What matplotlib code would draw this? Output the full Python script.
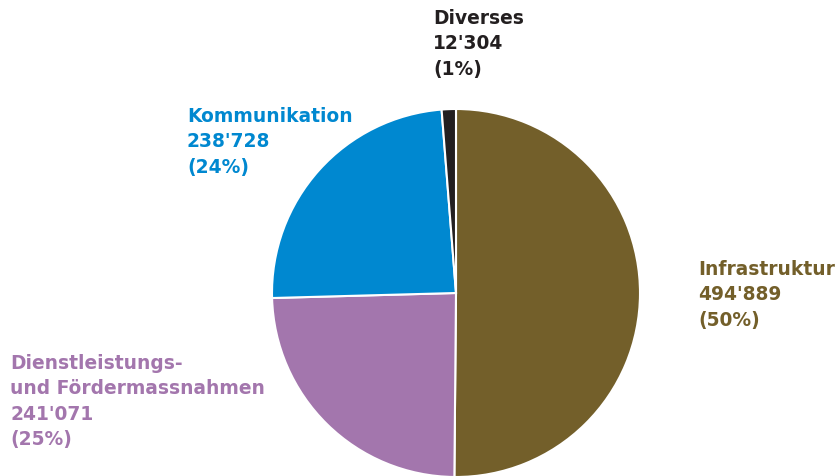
import matplotlib
matplotlib.use('Agg')
import matplotlib.pyplot as plt

# data
labels = ['Infrastruktur', 'Dienstleistungs-\nund Fördermassnahmen', 'Kommunikation', 'Diverses']
values = [494889, 241071, 238728, 12304]
shares = ['50%', '25%', '24%', '1%']
colors = ['#735F2A', '#A376AD', '#0088D0', '#231F20']

plt.rcParams['font.family'] = ['DejaVu Sans']

W, H = 837, 477
fig = plt.figure(figsize=(W / 100, H / 100), dpi=100)

# pie centre (456, 294) px, radius 184 px
cx, cy, r = 456, 294, 184
ax = fig.add_axes([(cx - r) / W, (H - cy - r) / H, 2 * r / W, 2 * r / H])
ax.pie(values, colors=colors, startangle=90, counterclock=False,
       wedgeprops=dict(edgecolor='white', linewidth=1.5))
ax.set_xlim(-1, 1)
ax.set_ylim(-1, 1)
ax.set_aspect('equal')
ax.axis('off')

def fmt(v):
    return f"{v:,}".replace(',', "'")

# label positions (px, top-left)
pos = [(698, 260), (10, 354), (187, 107), (433, 9)]
for lab, v, s, c, (x, y) in zip(labels, values, shares, colors, pos):
    fig.text(x / W, 1 - y / H, f"{lab}\n{fmt(v)}\n({s})", color=c,
             fontsize=13.4, fontweight='bold', ha='left', va='top',
             linespacing=1.42)

fig.savefig('out.png', dpi=100)
